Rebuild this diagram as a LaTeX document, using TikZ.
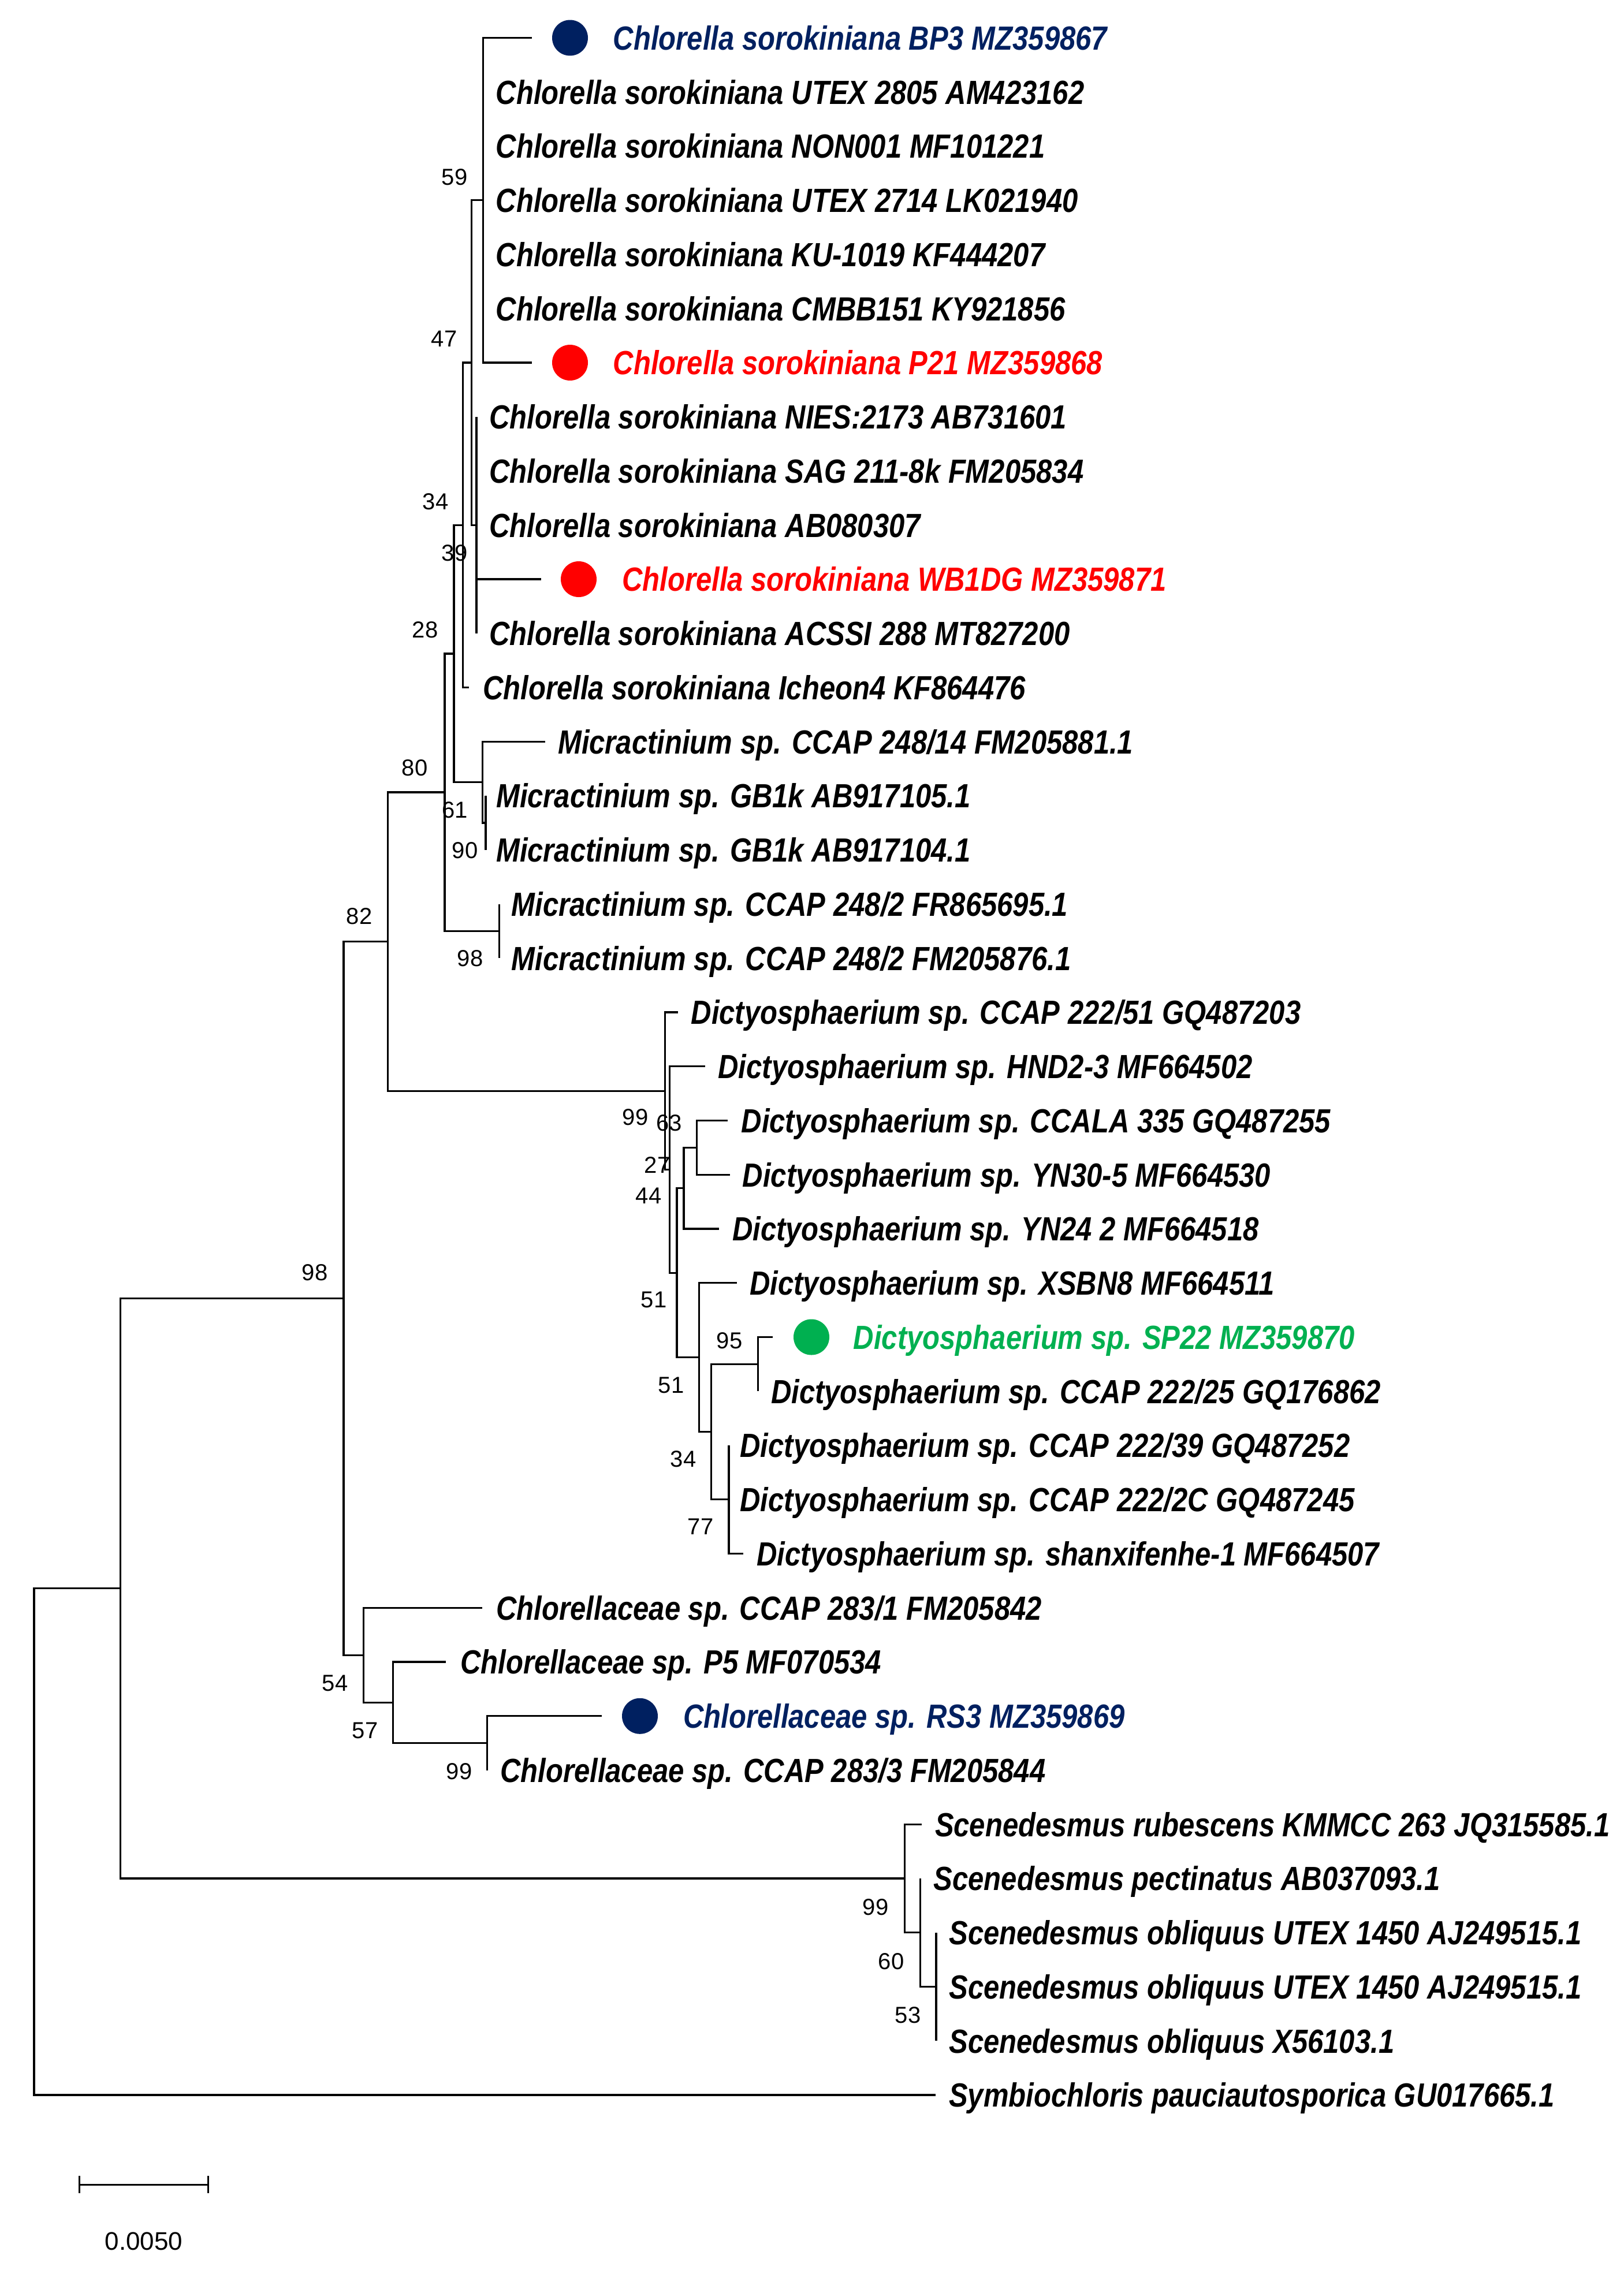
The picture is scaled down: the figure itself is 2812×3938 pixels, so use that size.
\documentclass[tikz,border=0pt]{standalone}
\usepackage{fontspec}
\newfontfamily\labfam{Liberation Sans}[FakeStretch=0.845]
\newfontfamily\bsfam{Liberation Sans}
\definecolor{navy}{RGB}{0,32,96}
\definecolor{myred}{RGB}{255,0,0}
\definecolor{mygreen}{RGB}{0,176,80}
\begin{document}
\begin{tikzpicture}[x=1pt,y=-1pt,
  br/.style={line width=3.3pt, line join=miter},
  lab/.style={anchor=base west, inner sep=0pt, yshift=-20.85pt,
    font=\labfam\fontsize{58}{60}\selectfont\bfseries\itshape},
  bs/.style={inner sep=0pt, font=\bsfam\fontsize{40}{42}\selectfont},
  dot/.style={circle, inner sep=0pt, minimum size=62pt}]
\useasboundingbox (0,0) rectangle (2812,3938);
% internal nodes
\coordinate (r)   at (59,3189.4);
\coordinate (nA)  at (208.4,2750.75);
\coordinate (n98) at (595,2248.5);
\coordinate (n82) at (671.4,1630.7);
\coordinate (nW)  at (770,1372.1);
\coordinate (nZ)  at (786,1131.9);
\coordinate (nY)  at (801.4,909.25);
\coordinate (nX)  at (816.2,628);
\coordinate (n59) at (836.3,346.75);
\coordinate (nP)  at (825,909.25);
\coordinate (nMA) at (835.7,1354.6);
\coordinate (nGB) at (841,1424.9);
\coordinate (nM2) at (864.3,1612.4);
\coordinate (d99) at (1151.8,1889.2);
\coordinate (d63) at (1159.8,2025.5);
\coordinate (d44) at (1171.9,2204.2);
\coordinate (d27) at (1183.9,2057.7);
\coordinate (dCC) at (1206.7,1987.4);
\coordinate (d51) at (1210.7,2350.7);
\coordinate (d34) at (1231.3,2479.6);
\coordinate (d95) at (1312.5,2362.4);
\coordinate (d77) at (1262,2596.75);
\coordinate (c54) at (629.5,2866.3);
\coordinate (c57) at (680.8,2948.3);
\coordinate (c99) at (843.75,3018.6);
\coordinate (s99) at (1566.5,3253);
\coordinate (s60) at (1593.3,3346.75);
\coordinate (s53) at (1621,3440.5);
% leaf tips
\coordinate (l0)  at (921,65.5);
\coordinate (l1)  at (836.3,159.25);
\coordinate (l2)  at (836.3,253);
\coordinate (l3)  at (836.3,346.75);
\coordinate (l4)  at (836.3,440.5);
\coordinate (l5)  at (836.3,534.25);
\coordinate (l6)  at (921,628);
\coordinate (l7)  at (825,721.75);
\coordinate (l8)  at (825,815.5);
\coordinate (l9)  at (825,909.25);
\coordinate (l10) at (936.7,1003);
\coordinate (l11) at (825,1096.75);
\coordinate (l12) at (811.7,1190.5);
\coordinate (l13) at (943.75,1284.25);
\coordinate (l14) at (841,1378);
\coordinate (l15) at (841,1471.75);
\coordinate (l16) at (864.3,1565.5);
\coordinate (l17) at (864.3,1659.25);
\coordinate (l18) at (1174,1753);
\coordinate (l19) at (1221,1846.75);
\coordinate (l20) at (1260,1940.5);
\coordinate (l21) at (1264.3,2034.25);
\coordinate (l22) at (1244.6,2128);
\coordinate (l23) at (1275.9,2221.75);
\coordinate (l24) at (1338,2315.5);
\coordinate (l25) at (1312.5,2409.25);
\coordinate (l26) at (1262,2503);
\coordinate (l27) at (1262,2596.75);
\coordinate (l28) at (1287,2690.5);
\coordinate (l29) at (834.8,2784.25);
\coordinate (l30) at (772.3,2878);
\coordinate (l31) at (1041.5,2971.75);
\coordinate (l32) at (843.75,3065.5);
\coordinate (l33) at (1595.5,3159.25);
\coordinate (l34) at (1593.3,3253);
\coordinate (l35) at (1621,3346.75);
\coordinate (l36) at (1621,3440.5);
\coordinate (l37) at (1621,3534.25);
\coordinate (l38) at (1619.6,3628);
% branches
\draw[br] (r) |- (nA);  \draw[br] (r) |- (l38);
\draw[br] (nA) |- (n98); \draw[br] (nA) |- (s99);
\draw[br] (n98) |- (n82); \draw[br] (n98) |- (c54);
\draw[br] (n82) |- (nW); \draw[br] (n82) |- (d99);
\draw[br] (nW) |- (nZ); \draw[br] (nW) |- (nM2);
\draw[br] (nZ) |- (nY); \draw[br] (nZ) |- (nMA);
\draw[br] (nY) |- (nX); \draw[br] (nY) |- (l12);
\draw[br] (nX) |- (n59); \draw[br] (nX) |- (nP);
\draw[br] (n59) |- (l0); \draw[br] (n59) |- (l6);
\foreach \k in {1,...,5} \draw[br] (n59) -- (l\k);
\draw[br] (nP) -- (l7); \draw[br] (nP) -- (l8); \draw[br] (nP) -- (l9);
\draw[br] (nP) |- (l10); \draw[br] (nP) -- (l11);
\draw[br] (nMA) |- (l13); \draw[br] (nMA) |- (nGB);
\draw[br] (nGB) -- (l14); \draw[br] (nGB) -- (l15);
\draw[br] (nM2) -- (l16); \draw[br] (nM2) -- (l17);
\draw[br] (d99) |- (l18); \draw[br] (d99) |- (d63);
\draw[br] (d63) |- (l19); \draw[br] (d63) |- (d44);
\draw[br] (d44) |- (d27); \draw[br] (d44) |- (d51);
\draw[br] (d27) |- (dCC); \draw[br] (d27) |- (l22);
\draw[br] (dCC) |- (l20); \draw[br] (dCC) |- (l21);
\draw[br] (d51) |- (l23); \draw[br] (d51) |- (d34);
\draw[br] (d34) |- (d95); \draw[br] (d34) |- (d77);
\draw[br] (d95) |- (l24); \draw[br] (d95) -- (l25);
\draw[br] (d77) -- (l26); \draw[br] (d77) -- (l27); \draw[br] (d77) |- (l28);
\draw[br] (c54) |- (l29); \draw[br] (c54) |- (c57);
\draw[br] (c57) |- (l30); \draw[br] (c57) |- (c99);
\draw[br] (c99) |- (l31); \draw[br] (c99) -- (l32);
\draw[br] (s99) |- (l33); \draw[br] (s99) |- (s60);
\draw[br] (s60) -- (l34); \draw[br] (s60) |- (s53);
\draw[br] (s53) -- (l35); \draw[br] (s53) -- (l36); \draw[br] (s53) -- (l37);
% coloured markers
\node[dot, fill=navy] (m0) at (987,65.5) {};
\node[dot, fill=myred] (m6) at (987,628) {};
\node[dot, fill=myred] (m10) at (1002,1003) {};
\node[dot, fill=mygreen] (m24) at (1405,2315.5) {};
\node[dot, fill=navy] (m31) at (1108,2971.75) {};
% taxon labels
\node[lab, text=navy] (t0) at (1061.7,65.5) {Chlorella sorokiniana BP3 MZ359867};
\node[lab] (t1) at (858.6,159.25) {Chlorella sorokiniana UTEX 2805 AM423162};
\node[lab] (t2) at (858.6,253) {Chlorella sorokiniana NON001 MF101221};
\node[lab] (t3) at (858.6,346.75) {Chlorella sorokiniana UTEX 2714 LK021940};
\node[lab] (t4) at (858.6,440.5) {Chlorella sorokiniana KU-1019 KF444207};
\node[lab] (t5) at (858.6,534.25) {Chlorella sorokiniana CMBB151 KY921856};
\node[lab, text=myred] (t6) at (1061.7,628) {Chlorella sorokiniana P21 MZ359868};
\node[lab] (t7) at (847.4,721.75) {Chlorella sorokiniana NIES:2173 AB731601};
\node[lab] (t8) at (847.4,815.5) {Chlorella sorokiniana SAG 211-8k FM205834};
\node[lab] (t9) at (847.4,909.25) {Chlorella sorokiniana AB080307};
\node[lab, text=myred] (t10) at (1077,1003) {Chlorella sorokiniana WB1DG MZ359871};
\node[lab] (t11) at (847.4,1096.75) {Chlorella sorokiniana ACSSI 288 MT827200};
\node[lab] (t12) at (836,1190.5) {Chlorella sorokiniana Icheon4 KF864476};
\node[lab] (t13) at (966,1284.25) {Micractinium sp. CCAP 248/14 FM205881.1};
\node[lab] (t14) at (859,1378) {Micractinium sp. GB1k AB917105.1};
\node[lab] (t15) at (859,1471.75) {Micractinium sp. GB1k AB917104.1};
\node[lab] (t16) at (885.7,1565.5) {Micractinium sp. CCAP 248/2 FR865695.1};
\node[lab] (t17) at (885.7,1659.25) {Micractinium sp. CCAP 248/2 FM205876.1};
\node[lab] (t18) at (1196.4,1753) {Dictyosphaerium sp. CCAP 222/51 GQ487203};
\node[lab] (t19) at (1243.3,1846.75) {Dictyosphaerium sp. HND2-3 MF664502};
\node[lab] (t20) at (1283.5,1940.5) {Dictyosphaerium sp. CCALA 335 GQ487255};
\node[lab] (t21) at (1285.7,2034.25) {Dictyosphaerium sp. YN30-5 MF664530};
\node[lab] (t22) at (1267.9,2128) {Dictyosphaerium sp. YN24 2 MF664518};
\node[lab] (t23) at (1298.2,2221.75) {Dictyosphaerium sp. XSBN8 MF664511};
\node[lab, text=mygreen] (t24) at (1477.7,2315.5) {Dictyosphaerium sp. SP22 MZ359870};
\node[lab] (t25) at (1334.8,2409.25) {Dictyosphaerium sp. CCAP 222/25 GQ176862};
\node[lab] (t26) at (1281.3,2503) {Dictyosphaerium sp. CCAP 222/39 GQ487252};
\node[lab] (t27) at (1281.3,2596.75) {Dictyosphaerium sp. CCAP 222/2C GQ487245};
\node[lab] (t28) at (1310.3,2690.5) {Dictyosphaerium sp. shanxifenhe-1 MF664507};
\node[lab] (t29) at (859.4,2784.25) {Chlorellaceae sp. CCAP 283/1 FM205842};
\node[lab] (t30) at (796.9,2878) {Chlorellaceae sp. P5 MF070534};
\node[lab, text=navy] (t31) at (1183,2971.75) {Chlorellaceae sp. RS3 MZ359869};
\node[lab] (t32) at (866,3065.5) {Chlorellaceae sp. CCAP 283/3 FM205844};
\node[lab] (t33) at (1618.8,3159.25) {Scenedesmus rubescens KMMCC 263 JQ315585.1};
\node[lab] (t34) at (1616.5,3253) {Scenedesmus pectinatus AB037093.1};
\node[lab] (t35) at (1643.3,3346.75) {Scenedesmus obliquus UTEX 1450 AJ249515.1};
\node[lab] (t36) at (1643.3,3440.5) {Scenedesmus obliquus UTEX 1450 AJ249515.1};
\node[lab] (t37) at (1643.3,3534.25) {Scenedesmus obliquus X56103.1};
\node[lab] (t38) at (1643,3628) {Symbiochloris pauciautosporica GU017665.1};
% bootstrap values
\node[bs] (b59) at (787,307) {59};
\node[bs] (b47) at (769,587) {47};
\node[bs] (b34a) at (754,869) {34};
\node[bs] (b39) at (787,958) {39};
\node[bs] (b28) at (736,1091) {28};
\node[bs] (b80) at (718,1330) {80};
\node[bs] (b61) at (787.5,1403) {61};
\node[bs] (b90) at (805,1473) {90};
\node[bs] (b82) at (622,1587) {82};
\node[bs] (b98a) at (814,1660) {98};
\node[bs] (b99a) at (1100,1935) {99};
\node[bs] (b63) at (1158.5,1945) {63};
\node[bs] (b27) at (1138,2018) {27};
\node[bs] (b44) at (1123,2071) {44};
\node[bs] (b51a) at (1132,2251) {51};
\node[bs] (b95) at (1263,2322) {95};
\node[bs] (b51b) at (1162,2399) {51};
\node[bs] (b34b) at (1183,2527) {34};
\node[bs] (b77) at (1213,2644) {77};
\node[bs] (b98b) at (545,2204) {98};
\node[bs] (b54) at (580,2915) {54};
\node[bs] (b57) at (632,2997) {57};
\node[bs] (b99b) at (795,3068) {99};
\node[bs] (b99c) at (1516,3303) {99};
\node[bs] (b60) at (1543,3397) {60};
\node[bs] (b53) at (1572,3490) {53};
% scale bar
\coordinate (sbL) at (137.3,3783.3);
\coordinate (sbR) at (360.7,3783.3);
\draw[br] (sbL) -- (sbR);
\draw[br] ([yshift=15pt]sbL) -- ([yshift=-15pt]sbL);
\draw[br] ([yshift=15pt]sbR) -- ([yshift=-15pt]sbR);
\node[bs, font=\bsfam\fontsize{44}{46}\selectfont] (sbt) at (249,3881.7) {0.0050};
\end{tikzpicture}
\end{document}
